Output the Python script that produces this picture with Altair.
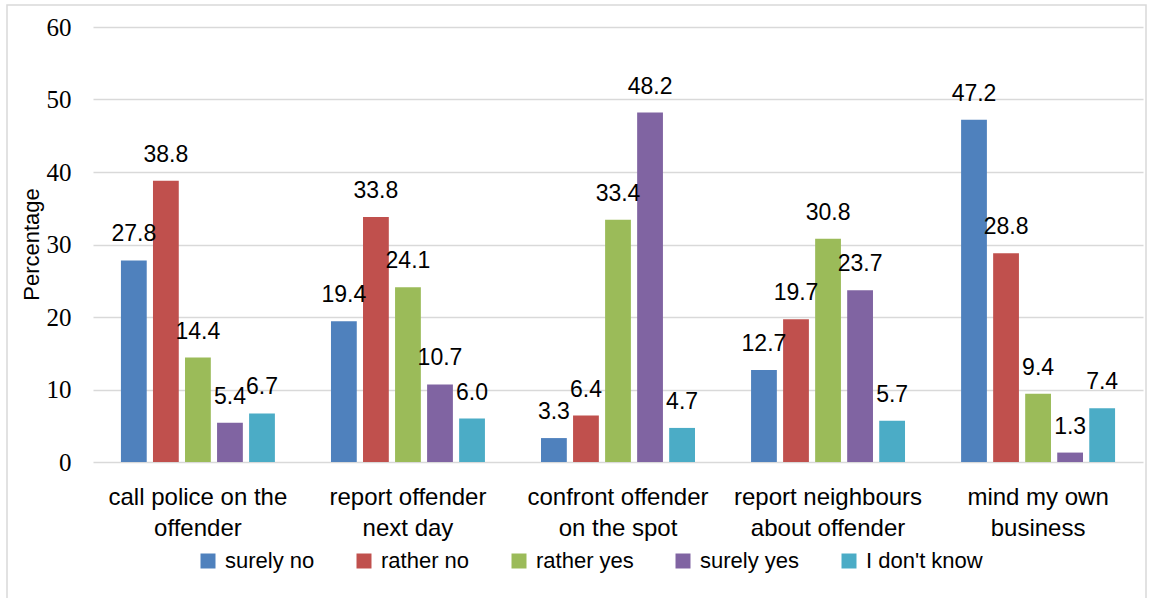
import altair as alt
import pandas as pd

# Survey: what respondents would do about an offender
categories = [
    "call police on the offender",
    "report offender next day",
    "confront offender on the spot",
    "report neighbours about offender",
    "mind my own business",
]
category_lines = [
    ["call police on the", "offender"],
    ["report offender", "next day"],
    ["confront offender", "on the spot"],
    ["report neighbours", "about offender"],
    ["mind my own", "business"],
]
answers = ["surely no", "rather no", "rather yes", "surely yes", "I don't know"]
colors = ["#4F81BD", "#C0504D", "#9BBB59", "#8064A2", "#4BACC6"]

surely_no = [27.8, 19.4, 3.3, 12.7, 47.2]
rather_no = [38.8, 33.8, 6.4, 19.7, 28.8]
rather_yes = [14.4, 24.1, 33.4, 30.8, 9.4]
surely_yes = [5.4, 10.7, 48.2, 23.7, 1.3]
dont_know = [6.7, 6.0, 4.7, 5.7, 7.4]

series = [surely_no, rather_no, rather_yes, surely_yes, dont_know]
rows = []
for answer, vals in zip(answers, series):
    for cat, v in zip(categories, vals):
        rows.append({"action": cat, "answer": answer, "value": v})
df = pd.DataFrame(rows)

# multi-line axis labels
label_expr = " : ".join(
    f"datum.label == '{c}' ? {lines!r}" for c, lines in zip(categories, category_lines)
) + " : datum.label"

SANS = "Liberation Sans"
SERIF = "Liberation Serif"

x = alt.X(
    "action:N",
    sort=categories,
    scale=alt.Scale(paddingInner=0.267, paddingOuter=0.133),
    axis=alt.Axis(
        title=None,
        labelAngle=0,
        labelExpr=label_expr,
        labelFont=SANS,
        labelFontSize=24,
        labelColor="#000000",
        labelLineHeight=31,
        labelPadding=23,
        labelLimit=400,
        domain=False,
        ticks=False,
    ),
)
x_off = alt.XOffset(
    "answer:N",
    sort=answers,
    scale=alt.Scale(paddingInner=0.195, paddingOuter=0),
)
y = alt.Y(
    "value:Q",
    scale=alt.Scale(domain=[0, 60]),
    axis=alt.Axis(
        title="Percentage",
        values=[0, 10, 20, 30, 40, 50, 60],
        labelFont=SERIF,
        labelFontSize=25,
        labelColor="#000000",
        labelPadding=22,
        titleFont=SANS,
        titleFontSize=22,
        titleFontWeight="normal",
        titleColor="#000000",
        titleAngle=270,
        titleBaseline="middle",
        titleX=-62,
        titleY=217,
        domain=False,
        ticks=False,
        grid=True,
        gridColor="#d9d9d9",
        gridWidth=1.3,
    ),
)

bars = alt.Chart(df).mark_bar().encode(
    x=x,
    xOffset=x_off,
    y=y,
    color=alt.Color(
        "answer:N",
        sort=answers,
        scale=alt.Scale(domain=answers, range=colors),
        legend=alt.Legend(
            title=None,
            orient="none",
            direction="horizontal",
            legendX=104,
            legendY=523,
            symbolType="square",
            symbolSize=225,
            symbolStrokeWidth=0,
            labelFont=SANS,
            labelFontSize=22,
            labelColor="#000000",
            labelOffset=6,
            columnPadding=38,
        ),
    ),
)

labels = alt.Chart(df).mark_text(
    font=SANS, fontSize=23, color="#000000", baseline="alphabetic", dy=-19
).encode(
    x=x,
    xOffset=x_off,
    y="value:Q",
    text=alt.Text("value:Q", format=".1f"),
)

frame = alt.Chart(alt.Data(values=[{}])).mark_rect(
    fill=None, stroke="#d9d9d9", strokeWidth=1.5
).encode(
    x=alt.value(-86), x2=alt.value(1053), y=alt.value(-22), y2=alt.value(700)
)

chart = (
    alt.layer(frame, bars, labels)
    .properties(
        width=1050,
        height=435,
        autosize=alt.AutoSizeParams(type="none"),
        padding={"left": 93, "top": 27, "right": 14, "bottom": 136},
        background="#ffffff",
    )
    .configure_view(stroke=None)
)

chart.save("out.html", embed_options={"renderer": "svg", "actions": False})
